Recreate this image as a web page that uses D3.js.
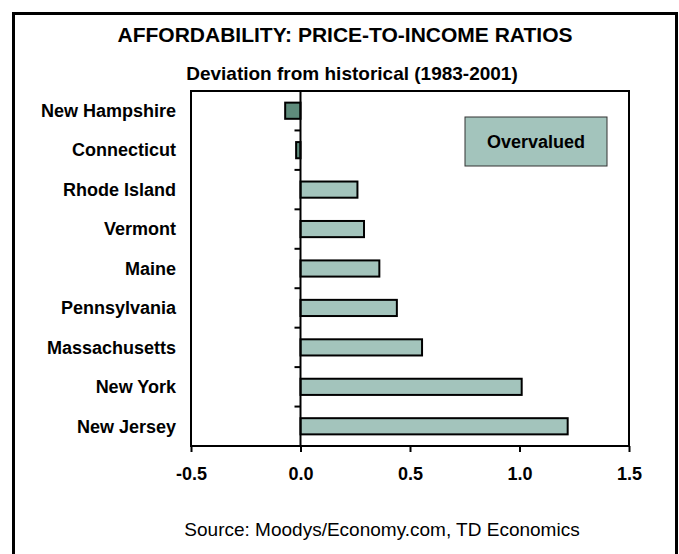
<!DOCTYPE html>
<html>
<head>
<meta charset="utf-8">
<script src="https://cdn.jsdelivr.net/npm/d3@7"></script>
<style>
  body { margin: 0; background: #fff; }
  svg { display: block; font-family: "Liberation Sans", Arial, sans-serif; }
</style>
</head>
<body>
<div id="chart"></div>
<script>
// States, top to bottom, and their deviation from the 1983-2001 average
const states = ["New Hampshire", "Connecticut", "Rhode Island", "Vermont", "Maine",
                "Pennsylvania", "Massachusetts", "New York", "New Jersey"];
const deviation = [-0.07, -0.02, 0.26, 0.29, 0.36, 0.44, 0.555, 1.01, 1.22];
const xTicks = [-0.5, 0.0, 0.5, 1.0, 1.5];

const W = 679, H = 554;
const plot = { left: 191, right: 629, top: 91, bottom: 446 };

const svg = d3.select("#chart").append("svg")
    .attr("width", W)
    .attr("height", H);

// outer frame (bottom edge runs off the picture)
svg.append("rect")
    .attr("x", 13.5).attr("y", 13.5)
    .attr("width", 663).attr("height", 560)
    .attr("fill", "none")
    .attr("stroke", "#000")
    .attr("stroke-width", 3);

svg.append("text")
    .attr("x", 345).attr("y", 42)
    .attr("text-anchor", "middle")
    .attr("font-size", "21px")
    .attr("font-weight", "bold")
    .text("AFFORDABILITY: PRICE-TO-INCOME RATIOS");

svg.append("text")
    .attr("x", 352).attr("y", 80)
    .attr("text-anchor", "middle")
    .attr("font-size", "19px")
    .attr("font-weight", "bold")
    .text("Deviation from historical (1983-2001)");

const x = d3.scaleLinear()
    .domain([-0.5, 1.5])
    .range([plot.left, plot.right]);

const y = d3.scaleBand()
    .domain(states)
    .range([plot.top, plot.bottom])
    .padding(0);

const barH = y.bandwidth() * 0.41;

// bars
svg.append("g")
    .selectAll("rect")
    .data(states)
    .join("rect")
    .attr("x", (d, i) => x(Math.min(0, deviation[i])))
    .attr("y", d => y(d) + (y.bandwidth() - barH) / 2)
    .attr("width", (d, i) => Math.abs(x(deviation[i]) - x(0)))
    .attr("height", barH)
    .attr("fill", (d, i) => deviation[i] < 0 ? "#5f8c7c" : "#a3c4bc")
    .attr("stroke", "#000")
    .attr("stroke-width", 2);

// zero line with category separators
svg.append("line")
    .attr("x1", x(0)).attr("x2", x(0))
    .attr("y1", plot.top).attr("y2", plot.bottom)
    .attr("stroke", "#000")
    .attr("stroke-width", 2);

const bounds = states.map(s => y(s)).concat([plot.bottom]);
svg.append("g")
    .selectAll("line")
    .data(bounds)
    .join("line")
    .attr("x1", x(0) - 6).attr("x2", x(0))
    .attr("y1", d => d).attr("y2", d => d)
    .attr("stroke", "#000")
    .attr("stroke-width", 2);

// plot frame
svg.append("rect")
    .attr("x", plot.left).attr("y", plot.top)
    .attr("width", plot.right - plot.left)
    .attr("height", plot.bottom - plot.top)
    .attr("fill", "none")
    .attr("stroke", "#000")
    .attr("stroke-width", 2);

// x axis
const xAxis = svg.append("g")
    .attr("transform", `translate(0,${plot.bottom})`)
    .call(d3.axisBottom(x)
        .tickValues(xTicks)
        .tickSize(6)
        .tickPadding(15)
        .tickFormat(d => d.toFixed(1)));

xAxis.select(".domain").remove();
xAxis.selectAll(".tick line").attr("stroke", "#000").attr("stroke-width", 2);
xAxis.selectAll(".tick text")
    .attr("font-family", "Liberation Sans, Arial, sans-serif")
    .attr("font-size", "18px")
    .attr("font-weight", "bold")
    .attr("fill", "#000");

// category labels
svg.append("g")
    .selectAll("text")
    .data(states)
    .join("text")
    .attr("x", 176)
    .attr("y", d => y(d) + y.bandwidth() / 2)
    .attr("dy", "0.35em")
    .attr("text-anchor", "end")
    .attr("font-size", "18px")
    .attr("font-weight", "bold")
    .text(d => d);

// legend
const legend = svg.append("g").attr("transform", "translate(465,117)");
legend.append("rect")
    .attr("width", 142).attr("height", 49)
    .attr("fill", "#a3c4bc")
    .attr("stroke", "#333")
    .attr("stroke-width", 1);
legend.append("text")
    .attr("x", 71).attr("y", 25)
    .attr("dy", "0.35em")
    .attr("text-anchor", "middle")
    .attr("font-size", "18px")
    .attr("font-weight", "bold")
    .text("Overvalued");

svg.append("text")
    .attr("x", 382).attr("y", 536)
    .attr("text-anchor", "middle")
    .attr("font-size", "19px")
    .text("Source: Moodys/Economy.com, TD Economics");
</script>
</body>
</html>
